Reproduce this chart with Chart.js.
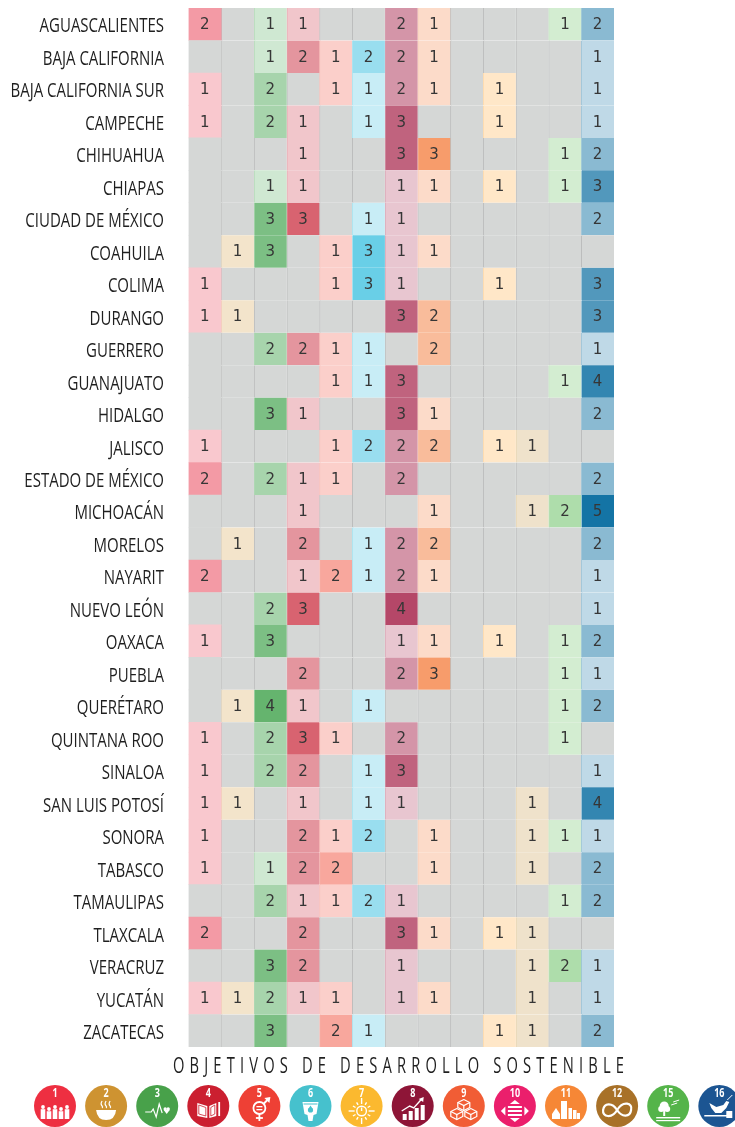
<!DOCTYPE html>
<html lang="es">
<head>
<meta charset="utf-8">
<title>Objetivos de Desarrollo Sostenible por estado</title>
<script src="https://cdn.jsdelivr.net/npm/chart.js@4/dist/chart.umd.min.js"></script>
<style>
    html, body { margin: 0; padding: 0; background: #fff; }
    #chartBox { width: 735px; height: 1127px; }
</style>
</head>
<body>
<div id="chartBox"><canvas id="HeatChart"></canvas></div>
<script>
// ================ Datos ======================
const estados = [
    'AGUASCALIENTES', 'BAJA CALIFORNIA', 'BAJA CALIFORNIA SUR', 'CAMPECHE', 'CHIHUAHUA', 'CHIAPAS',
    'CIUDAD DE MÉXICO', 'COAHUILA', 'COLIMA', 'DURANGO', 'GUERRERO', 'GUANAJUATO', 'HIDALGO', 'JALISCO',
    'ESTADO DE MÉXICO', 'MICHOACÁN', 'MORELOS', 'NAYARIT', 'NUEVO LEÓN', 'OAXACA', 'PUEBLA', 'QUERÉTARO',
    'QUINTANA ROO', 'SINALOA', 'SAN LUIS POTOSÍ', 'SONORA', 'TABASCO', 'TAMAULIPAS', 'TLAXCALA', 'VERACRUZ',
    'YUCATÁN', 'ZACATECAS'
];

// columnas de la tabla (el objetivo 7 no tiene columna)
const objetivos = [1, 2, 3, 4, 5, 6, 8, 9, 10, 11, 12, 15, 16];

// una lista por objetivo, en el orden de estados; 0 = sin valor
const ods1  = [2,0,1,1,0,0,0,0,1,1,0,0,0,1,2,0,0,2,0,1,0,0,1,1,1,1,1,0,2,0,1,0];
const ods2  = [0,0,0,0,0,0,0,1,0,1,0,0,0,0,0,0,1,0,0,0,0,1,0,0,1,0,0,0,0,0,1,0];
const ods3  = [1,1,2,2,0,1,3,3,0,0,2,0,3,0,2,0,0,0,2,3,0,4,2,2,0,0,1,2,0,3,2,3];
const ods4  = [1,2,0,1,1,1,3,0,0,0,2,0,1,0,1,1,2,1,3,0,2,1,3,2,1,2,2,1,2,2,1,0];
const ods5  = [0,1,1,0,0,0,0,1,1,0,1,1,0,1,1,0,0,2,0,0,0,0,1,0,0,1,2,1,0,0,1,2];
const ods6  = [0,2,1,1,0,0,1,3,3,0,1,1,0,2,0,0,1,1,0,0,0,1,0,1,1,2,0,2,0,0,0,1];
const ods8  = [2,2,2,3,3,1,1,1,1,3,0,3,3,2,2,0,2,2,4,1,2,0,2,3,1,0,0,1,3,1,1,0];
const ods9  = [1,1,1,0,3,1,0,1,0,2,2,0,1,2,0,1,2,1,0,1,3,0,0,0,0,1,1,0,1,0,1,0];
const ods10 = [0,0,0,0,0,0,0,0,0,0,0,0,0,0,0,0,0,0,0,0,0,0,0,0,0,0,0,0,0,0,0,0];
const ods11 = [0,0,1,1,0,1,0,0,1,0,0,0,0,1,0,0,0,0,0,1,0,0,0,0,0,0,0,0,1,0,0,1];
const ods12 = [0,0,0,0,0,0,0,0,0,0,0,0,0,1,0,1,0,0,0,0,0,0,0,0,1,1,1,0,1,1,1,1];
const ods15 = [1,0,0,0,1,1,0,0,0,0,0,1,0,0,0,2,0,0,0,1,1,1,1,0,0,1,0,1,0,2,0,0];
const ods16 = [2,1,1,1,2,3,2,0,3,3,1,4,2,0,2,5,2,1,1,2,1,2,0,1,4,1,2,2,0,1,1,2];
const valores = [ods1, ods2, ods3, ods4, ods5, ods6, ods8, ods9, ods10, ods11, ods12, ods15, ods16];

const tituloEje = 'OBJETIVOS DE DESARROLLO SOSTENIBLE';

// colores
const colorObjetivo = {
    1: '#e5243b', 2: '#cf9330', 3: '#3fa14a', 4: '#c5192d', 5: '#ef402b', 6: '#22b8dc',
    8: '#a21942', 9: '#f36d25', 10: '#dd1367', 11: '#fd9d24', 12: '#bf8b2e', 15: '#4fb548', 16: '#00689d'
};
const alfaPorValor = [0, 0.25, 0.46, 0.68, 0.80, 0.92];
const grisVacio = '#d5d7d6';
const grisLinea = '#b7b8b8';

// iconos de abajo
const iconos = [1, 2, 3, 4, 5, 6, 7, 8, 9, 10, 11, 12, 15, 16];
const colorIcono = {
    1: '#ee2f41', 2: '#ce9331', 3: '#48a14a', 4: '#cb1f30', 5: '#ee4035', 6: '#46c1cd', 7: '#fbb92f',
    8: '#8e1537', 9: '#f15d35', 10: '#eb1f6c', 11: '#f68736', 12: '#a87128', 15: '#55b44a', 16: '#1c5592'
};

function rgba(hex, a) {
    const n = parseInt(hex.slice(1), 16);
    return `rgba(${n >> 16}, ${(n >> 8) & 255}, ${n & 255}, ${a})`;
}

function mezcla(hex, a) {
    // color sobre blanco, opaco, para que las celdas no dejen costuras
    const n = parseInt(hex.slice(1), 16);
    const c = [n >> 16, (n >> 8) & 255, n & 255].map(v => Math.round(255 + (v - 255) * a));
    return `rgb(${c[0]}, ${c[1]}, ${c[2]})`;
}

// No hay fuente condensada instalada: se angosta Open Sans con scale
function textoAngosto(ctx, texto, x, y, escala) {
    ctx.save();
    ctx.translate(x, y);
    ctx.scale(escala, 1);
    ctx.fillText(texto, 0, 0);
    ctx.restore();
}

// ================ Dibujos de los iconos ======================
function linea(ctx, pts) {
    ctx.beginPath();
    pts.forEach((p, i) => i ? ctx.lineTo(p[0], p[1]) : ctx.moveTo(p[0], p[1]));
    ctx.stroke();
}

function relleno(ctx, pts) {
    ctx.beginPath();
    pts.forEach((p, i) => i ? ctx.lineTo(p[0], p[1]) : ctx.moveTo(p[0], p[1]));
    ctx.closePath();
    ctx.fill();
}

function circulo(ctx, x, y, r, lleno) {
    ctx.beginPath();
    ctx.arc(x, y, r, 0, Math.PI * 2);
    lleno ? ctx.fill() : ctx.stroke();
}

// x, y = centro del icono
const glifos = {
    1(ctx, x, y) {
        [[-12, 1], [-6, 3], [0, 1], [6, 3], [12, 1]].forEach(p => {
            circulo(ctx, x + p[0], y + p[1], 1.9, true);
            ctx.fillRect(x + p[0] - 2.3, y + p[1] + 2.2, 4.6, 13 - p[1] - 2.2);
        });
    },
    2(ctx, x, y) {
        ctx.beginPath();
        ctx.moveTo(x - 10, y + 4);
        ctx.lineTo(x + 10, y + 4);
        ctx.quadraticCurveTo(x + 9, y + 14, x, y + 14);
        ctx.quadraticCurveTo(x - 9, y + 14, x - 10, y + 4);
        ctx.fill();
        [-4, 0, 4].forEach(d => {
            ctx.beginPath();
            ctx.moveTo(x + d, y - 5);
            ctx.quadraticCurveTo(x + d - 2, y - 2, x + d, y);
            ctx.quadraticCurveTo(x + d + 1, y + 1, x + d, y + 2);
            ctx.stroke();
        });
    },
    3(ctx, x, y) {
        linea(ctx, [[x - 12, y + 6], [x - 6, y + 6], [x - 4, y + 3], [x - 1, y + 11], [x + 2, y - 2], [x + 5, y + 7]]);
        circulo(ctx, x + 8, y + 3, 1.7, true);
        circulo(ctx, x + 11, y + 3, 1.7, true);
        relleno(ctx, [[x + 6.5, y + 4], [x + 12.5, y + 4], [x + 9.5, y + 8]]);
    },
    4(ctx, x, y) {
        relleno(ctx, [[x - 11, y - 3], [x - 1, y], [x - 1, y + 12], [x - 11, y + 10]]);
        relleno(ctx, [[x + 1, y], [x + 8, y - 3], [x + 8, y + 10], [x + 1, y + 12]]);
        ctx.strokeStyle = colorIcono[4];
        ctx.lineWidth = 0.8;
        linea(ctx, [[x - 9.5, y - 1], [x - 2.5, y + 1.5], [x - 2.5, y + 10], [x - 9.5, y + 8], [x - 9.5, y - 1]]);
        linea(ctx, [[x + 2.5, y + 1.5], [x + 6.5, y - 1], [x + 6.5, y + 8], [x + 2.5, y + 10], [x + 2.5, y + 1.5]]);
        ctx.fillRect(x + 10, y - 4, 1.8, 14);
    },
    5(ctx, x, y) {
        ctx.lineWidth = 1.8;
        circulo(ctx, x, y + 2, 6, false);
        linea(ctx, [[x, y + 8], [x, y + 15]]);
        linea(ctx, [[x - 3.5, y + 12], [x + 3.5, y + 12]]);
        linea(ctx, [[x + 4, y - 2], [x + 9, y - 7]]);
        relleno(ctx, [[x + 5, y - 8], [x + 11, y - 9], [x + 10, y - 3]]);
        ctx.fillRect(x - 3, y, 6, 1.3);
        ctx.fillRect(x - 3, y + 3, 6, 1.3);
    },
    6(ctx, x, y) {
        relleno(ctx, [[x - 8, y - 4], [x + 8, y - 4], [x + 6, y + 8], [x + 3, y + 9], [x + 2, y + 15], [x - 2, y + 15], [x - 3, y + 9], [x - 6, y + 8]]);
        ctx.fillStyle = colorIcono[6];
        ctx.fillRect(x - 7, y - 2.5, 14, 1);
        circulo(ctx, x, y + 4, 2.6, true);
        relleno(ctx, [[x - 2.2, y + 3], [x + 2.2, y + 3], [x, y - 0.5]]);
    },
    7(ctx, x, y) {
        ctx.lineWidth = 1.4;
        circulo(ctx, x, y + 5, 4.8, false);
        for (let i = 0; i < 12; i++) {
            const a = i * Math.PI / 6;
            const r2 = i % 3 === 0 ? 13 : 10;
            linea(ctx, [[x + Math.cos(a) * 7, y + 5 + Math.sin(a) * 7], [x + Math.cos(a) * r2, y + 5 + Math.sin(a) * r2]]);
        }
        linea(ctx, [[x, y + 1.5], [x, y + 5]]);
    },
    8(ctx, x, y) {
        [[-10, 8], [-4, 5], [2, 2], [8, -1]].forEach(p => ctx.fillRect(x + p[0], y + p[1], 4, 14 - p[1]));
        ctx.lineWidth = 1.4;
        linea(ctx, [[x - 11, y + 5], [x - 3, y], [x + 1, y + 2], [x + 9, y - 7]]);
        relleno(ctx, [[x + 6, y - 7], [x + 11, y - 9], [x + 10.5, y - 4]]);
    },
    9(ctx, x, y) {
        [[0, -3], [-7, 6], [7, 6]].forEach(p => {
            const cx = x + p[0], cy = y + p[1];
            linea(ctx, [[cx, cy - 3.5], [cx + 6, cy - 0.5], [cx + 6, cy + 4.5], [cx, cy + 7.5], [cx - 6, cy + 4.5], [cx - 6, cy - 0.5], [cx, cy - 3.5]]);
            linea(ctx, [[cx - 6, cy - 0.5], [cx, cy + 2.5], [cx + 6, cy - 0.5]]);
            linea(ctx, [[cx, cy + 2.5], [cx, cy + 7.5]]);
        });
    },
    10(ctx, x, y) {
        ctx.fillRect(x - 7, y, 14, 2);
        ctx.fillRect(x - 7, y + 4, 14, 2);
        ctx.fillRect(x - 7, y + 8, 14, 2);
        relleno(ctx, [[x, y - 6], [x + 5, y - 2], [x - 5, y - 2]]);
        relleno(ctx, [[x, y + 16], [x + 5, y + 12], [x - 5, y + 12]]);
        relleno(ctx, [[x - 14, y + 5], [x - 9.5, y + 0.5], [x - 9.5, y + 9.5]]);
        relleno(ctx, [[x + 14, y + 5], [x + 9.5, y + 0.5], [x + 9.5, y + 9.5]]);
    },
    11(ctx, x, y) {
        ctx.fillRect(x - 5, y - 5, 6, 18);
        ctx.fillRect(x + 2.5, y + 2, 3.5, 11);
        ctx.fillRect(x + 7, y + 4, 3.5, 9);
        ctx.fillRect(x + 11, y + 7, 3, 6);
        ctx.fillRect(x - 14, y + 8, 8, 5);
        relleno(ctx, [[x - 14, y + 8], [x - 10, y + 2], [x - 6, y + 8]]);
    },
    12(ctx, x, y) {
        ctx.lineWidth = 2.2;
        ctx.beginPath();
        ctx.moveTo(x, y + 4);
        ctx.bezierCurveTo(x + 6, y - 6, x + 16, y - 3, x + 14, y + 4);
        ctx.bezierCurveTo(x + 13, y + 11, x + 5, y + 12, x, y + 4);
        ctx.bezierCurveTo(x - 5, y - 4, x - 13, y - 3, x - 14, y + 4);
        ctx.bezierCurveTo(x - 15, y + 11, x - 5, y + 13, x, y + 4);
        ctx.stroke();
    },
    15(ctx, x, y) {
        circulo(ctx, x - 4, y, 4.5, true);
        circulo(ctx, x - 7, y + 3, 3, true);
        circulo(ctx, x - 1, y + 3, 3, true);
        ctx.fillRect(x - 5, y + 4, 2, 6);
        ctx.fillRect(x - 12, y + 11, 24, 1.4);
        ctx.fillRect(x - 12, y + 14, 24, 1.2);
        ctx.lineWidth = 1;
        linea(ctx, [[x + 3, y - 1], [x + 9, y - 3]]);
        linea(ctx, [[x + 5, y - 4], [x + 11, y - 6]]);
    },
    16(ctx, x, y) {
        relleno(ctx, [[x - 10, y - 3], [x - 3, y + 1], [x + 4, y - 1], [x + 7, y - 5], [x + 10, y - 4], [x + 7, y + 2], [x + 2, y + 7], [x - 4, y + 7], [x - 8, y + 2]]);
        ctx.fillRect(x - 15, y + 9, 23, 1.5);
        ctx.fillRect(x + 7, y + 5, 6, 7);
        ctx.lineWidth = 1;
        linea(ctx, [[x + 8, y - 6], [x + 13, y - 11]]);
    }
};

// ================ Plugin: etiquetas, números, título e iconos ======================
const celdasPlugin = {
    id: 'celdas',
    afterDatasetsDraw(chart) {
        const { ctx, scales: { x: ejeX, y: ejeY } } = chart;
        ctx.save();
        ctx.textBaseline = 'middle';

        // nombres de los estados
        ctx.font = '20px "Open Sans"';
        ctx.fillStyle = '#1f1f1f';
        ctx.textAlign = 'right';
        estados.forEach((e, fila) => {
            textoAngosto(ctx, e, 164, ejeY.getPixelForValue(fila) + 2.5, 0.75);
        });

        // números de las celdas
        ctx.font = '15px "DejaVu Sans"';
        ctx.fillStyle = '#363636';
        ctx.textAlign = 'center';
        valores.forEach((lista, col) => {
            lista.forEach((v, fila) => {
                if (v > 0) ctx.fillText(String(v), ejeX.getPixelForValue(col + 0.5), ejeY.getPixelForValue(fila) + 1);
            });
        });

        // título de abajo
        const escalaTitulo = 0.70;
        ctx.font = '21px "Open Sans"';
        const anchoBase = ctx.measureText(tituloEje).width * escalaTitulo;
        ctx.letterSpacing = ((451 - anchoBase) / (tituloEje.length - 1) / escalaTitulo) + 'px';
        ctx.fillStyle = '#1f1f1f';
        ctx.textAlign = 'left';
        textoAngosto(ctx, tituloEje, 173, 1067.5, escalaTitulo);
        ctx.letterSpacing = '0px';

        // iconos
        iconos.forEach((n, i) => {
            const cx = 55 + i * 51.1;
            const cy = 1106;
            ctx.fillStyle = colorIcono[n];
            circulo(ctx, cx, cy, 21, true);
            ctx.fillStyle = '#fff';
            ctx.strokeStyle = '#fff';
            ctx.lineWidth = 1.2;
            ctx.font = 'bold 12px "Open Sans"';
            ctx.textAlign = 'center';
            textoAngosto(ctx, String(n), cx, cy - 12, 0.75);
            ctx.save();
            glifos[n](ctx, cx, cy);
            ctx.restore();
        });

        ctx.restore();
    }
};

// ================ Heatmap ======================
const datasets = objetivos.map((obj, col) => ({
    label: 'ODS ' + obj,
    data: estados.map(e => ({ x: [col, col + 1], y: e })),
    backgroundColor: c => {
        const v = valores[col][c.dataIndex];
        return v > 0 ? mezcla(colorObjetivo[obj], alfaPorValor[v]) : grisVacio;
    },
    borderColor: c => {
        const v = valores[col][c.dataIndex];
        return v > 0 ? rgba(colorObjetivo[obj], 0.4) : grisLinea;
    },
    borderWidth: { left: col === 0 ? 0 : 1, right: 0, top: 0, bottom: 0 },
    borderSkipped: false,
    inflateAmount: 0.3,
    grouped: false,
    barPercentage: 1,
    categoryPercentage: 1
}));

new Chart(document.getElementById('HeatChart'), {
    type: 'bar',
    data: { labels: estados, datasets: datasets },
    plugins: [celdasPlugin],
    options: {
        indexAxis: 'y',
        responsive: true,
        maintainAspectRatio: false,
        animation: false,
        layout: { padding: { top: 8, bottom: 80, right: 121, left: 0 } },
        plugins: { legend: { display: false }, tooltip: { enabled: false }, title: { display: false } },
        scales: {
            x: { type: 'linear', min: 0, max: objetivos.length, display: false },
            y: {
                type: 'category',
                grid: { display: false },
                border: { display: false },
                ticks: { display: false },
                afterFit: scale => { scale.width = 188.5; }
            }
        }
    }
});
</script>
</body>
</html>
